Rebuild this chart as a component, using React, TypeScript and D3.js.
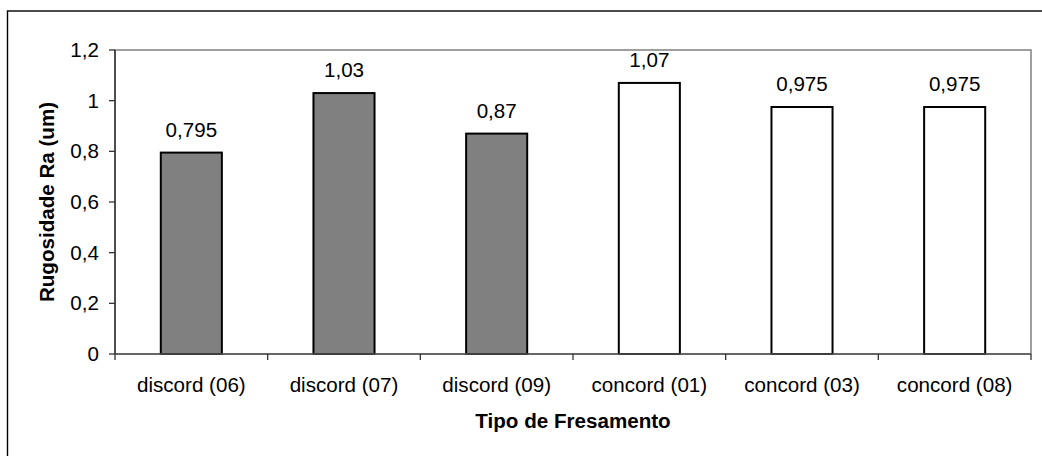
import React from "react";
import * as d3 from "d3";

const categories = [
  "discord (06)",
  "discord (07)",
  "discord (09)",
  "concord (01)",
  "concord (03)",
  "concord (08)",
];
const values = [0.795, 1.03, 0.87, 1.07, 0.975, 0.975];
const valueLabels = ["0,795", "1,03", "0,87", "1,07", "0,975", "0,975"];
const yTicks = [0, 0.2, 0.4, 0.6, 0.8, 1, 1.2];
const yTickLabels = ["0", "0,2", "0,4", "0,6", "0,8", "1", "1,2"];
const barFills = ["#808080", "#808080", "#808080", "#ffffff", "#ffffff", "#ffffff"];

const W = 1042;
const H = 456;
const plot = { left: 115, right: 1031, top: 50, bottom: 354 };
const FONT = "'Liberation Sans', Arial, sans-serif";
const FS = 20;
const SX = 1.03;

const x = d3
  .scaleBand<string>()
  .domain(categories)
  .range([plot.left, plot.right])
  .paddingInner(0.6)
  .paddingOuter(0.3);
const y = d3.scaleLinear().domain([0, 1.2]).range([plot.bottom, plot.top]);

const step = x.step();
const boundaries = d3.range(categories.length + 1).map((i) => plot.left + i * step);

const Txt = ({ x: tx, y: ty, anchor = "middle", bold = false, rotate = 0, children }: any) => (
  <text
    transform={`translate(${tx},${ty})${rotate ? ` rotate(${rotate})` : ""} scale(${SX},1)`}
    textAnchor={anchor}
    fontFamily={FONT}
    fontSize={FS}
    fontWeight={bold ? 700 : 400}
    fill="#000"
  >
    {children}
  </text>
);

export default function App() {
  return (
    <svg
      width={W}
      height={H}
      viewBox={`0 0 ${W} ${H}`}
      style={{ position: "absolute", left: 0, top: 0, background: "#fff" }}
    >
      {/* chart frame, runs off the right and bottom edges */}
      <rect x={7.5} y={11} width={W + 20} height={H + 20} fill="#fff" stroke="#000" strokeWidth={1.4} />

      {/* plot area border */}
      <rect
        x={plot.left}
        y={plot.top}
        width={plot.right - plot.left}
        height={plot.bottom - plot.top}
        fill="#fff"
        stroke="#808080"
        strokeWidth={1.5}
      />

      {/* bars */}
      {categories.map((c, i) => (
        <rect
          key={c}
          x={x(c)}
          y={y(values[i])}
          width={x.bandwidth()}
          height={plot.bottom - y(values[i])}
          fill={barFills[i]}
          stroke="#000"
          strokeWidth={2}
        />
      ))}

      {/* axes */}
      <line x1={plot.left} x2={plot.left} y1={plot.top} y2={plot.bottom} stroke="#333" strokeWidth={1.5} />
      <line x1={plot.left} x2={plot.right} y1={plot.bottom} y2={plot.bottom} stroke="#555" strokeWidth={1.5} />

      {yTicks.map((t, i) => (
        <g key={t}>
          <line x1={plot.left - 6} x2={plot.left} y1={y(t)} y2={y(t)} stroke="#333" strokeWidth={1.3} />
          <Txt x={99} y={y(t) + 7} anchor="end">
            {yTickLabels[i]}
          </Txt>
        </g>
      ))}

      {boundaries.map((b, i) => (
        <line key={i} x1={b} x2={b} y1={plot.bottom} y2={plot.bottom + 6} stroke="#333" strokeWidth={1.3} />
      ))}

      {categories.map((c) => (
        <Txt key={c} x={(x(c) as number) + x.bandwidth() / 2} y={392}>
          {c}
        </Txt>
      ))}

      {categories.map((c, i) => (
        <Txt key={c + "v"} x={(x(c) as number) + x.bandwidth() / 2} y={y(values[i]) - 16}>
          {valueLabels[i]}
        </Txt>
      ))}

      <Txt x={(plot.left + plot.right) / 2} y={428} bold>
        Tipo de Fresamento
      </Txt>
      <Txt x={54} y={(plot.top + plot.bottom) / 2} bold rotate={-90}>
        Rugosidade Ra (um)
      </Txt>
    </svg>
  );
}
